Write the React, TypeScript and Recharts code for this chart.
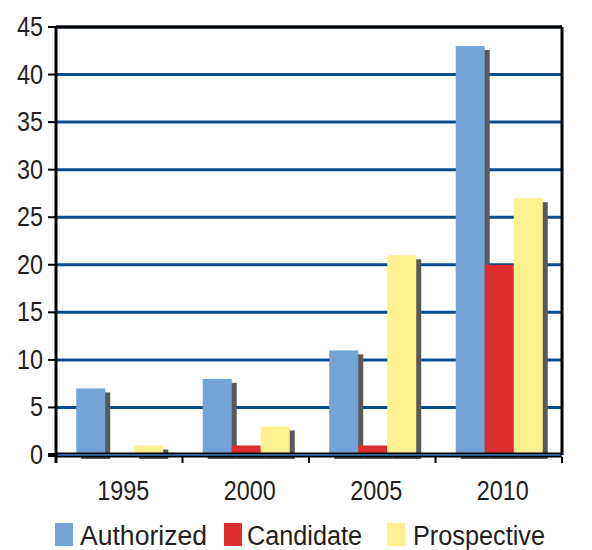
import React from 'react';
import { BarChart, Bar, XAxis, YAxis, CartesianGrid, ReferenceLine } from 'recharts';

const years = ['1995', '2000', '2005', '2010'];
const authorized = [7, 8, 11, 43];
const candidate = [0, 1, 1, 20];
const prospective = [1, 3, 21, 27];
const yTicks = [0, 5, 10, 15, 20, 25, 30, 35, 40, 45];

const series = [
  { key: 'authorized', name: 'Authorized', color: '#74a4d7' },
  { key: 'candidate', name: 'Candidate', color: '#dd2e2f' },
  { key: 'prospective', name: 'Prospective', color: '#fef18f' },
];

const data = years.map((year, i) => ({
  year,
  authorized: authorized[i],
  candidate: candidate[i],
  prospective: prospective[i],
}));

const W = 592;
const H = 550;
const LEFT = 56;
const RIGHT = 562;
const BAND = (RIGHT - LEFT) / years.length;
const font = '"Liberation Sans", Arial, sans-serif';
const textColor = '#231f20';
const gridColor = '#0b4d8b';
const DIGIT = 13; // condensed digit width in the original

// bar with a dark drop shadow to the lower right
const ShadowBar = (props: any) => {
  const { x, y, width, height, fill } = props;
  if (!height || height <= 0) return null;
  return (
    <g>
      <rect x={x + 5} y={y + 4} width={width} height={height} fill="#58595b" />
      <rect x={x} y={y} width={width} height={height} fill={fill} />
    </g>
  );
};

const XTick = (props: any) => {
  const { x, payload, index } = props;
  const label = String(payload.value);
  return (
    <g>
      {index === 0 && <line x1={x - BAND / 2} x2={x - BAND / 2} y1={455} y2={463} stroke="#000" strokeWidth={3} />}
      <line x1={x + BAND / 2} x2={x + BAND / 2} y1={457} y2={463} stroke="#000" strokeWidth={2} />
      <text
        x={x + 4}
        y={500}
        textAnchor="middle"
        fontFamily={font}
        fontSize={28}
        fill={textColor}
        textLength={label.length * DIGIT}
        lengthAdjust="spacingAndGlyphs"
      >
        {label}
      </text>
    </g>
  );
};

const YTick = (props: any) => {
  const { y, payload } = props;
  const label = String(payload.value);
  return (
    <g>
      <line x1={48} x2={LEFT} y1={y} y2={y} stroke="#000" strokeWidth={payload.value === 0 ? 4 : 2} />
      <text
        x={43}
        y={y + 9}
        textAnchor="end"
        fontFamily={font}
        fontSize={28}
        fill={textColor}
        textLength={label.length * DIGIT}
        lengthAdjust="spacingAndGlyphs"
      >
        {label}
      </text>
    </g>
  );
};

const legendPos = [
  { sx: 55, tx: 80, tw: 127 },
  { sx: 224, tx: 247, tw: 115 },
  { sx: 387, tx: 413, tw: 132 },
];

export default function App() {
  return (
    <div style={{ position: 'absolute', left: 0, top: 0, width: W, height: H, background: '#fff' }}>
      <BarChart
        width={W}
        height={H}
        data={data}
        margin={{ top: 27, right: 0, left: 0, bottom: 0 }}
        barCategoryGap="16%"
        barGap={0}
      >
        <CartesianGrid vertical={false} stroke={gridColor} strokeWidth={3} />
        <XAxis
          dataKey="year"
          height={95}
          axisLine={{ stroke: '#2a5d94', strokeWidth: 2 }}
          tickLine={false}
          tick={<XTick />}
          interval={0}
        />
        <YAxis
          width={LEFT}
          domain={[0, 45]}
          ticks={yTicks}
          interval={0}
          axisLine={{ stroke: '#000', strokeWidth: 3 }}
          tickLine={false}
          tick={<YTick />}
        />
        <YAxis
          yAxisId="r"
          orientation="right"
          width={30}
          domain={[0, 45]}
          tick={false}
          tickLine={false}
          axisLine={{ stroke: '#000', strokeWidth: 3 }}
        />
        {series.map((s) => (
          <Bar
            key={s.key}
            dataKey={s.key}
            name={s.name}
            fill={s.color}
            shape={<ShadowBar />}
            isAnimationActive={false}
          />
        ))}
        <ReferenceLine y={45} stroke="#000" strokeWidth={3} />
        <ReferenceLine y={0} stroke="#000" strokeWidth={5} />
      </BarChart>
      {/* legend */}
      <svg width={W} height={40} style={{ position: 'absolute', left: 0, top: 515 }}>
        {series.map((s, i) => {
          const p = legendPos[i];
          return (
            <g key={s.key}>
              <rect x={p.sx} y={8} width={18} height={23} fill={s.color} />
              <text
                x={p.tx}
                y={30}
                fontSize={27}
                fontFamily={font}
                fill={textColor}
                textLength={p.tw}
                lengthAdjust="spacingAndGlyphs"
              >
                {s.name}
              </text>
            </g>
          );
        })}
      </svg>
    </div>
  );
}
